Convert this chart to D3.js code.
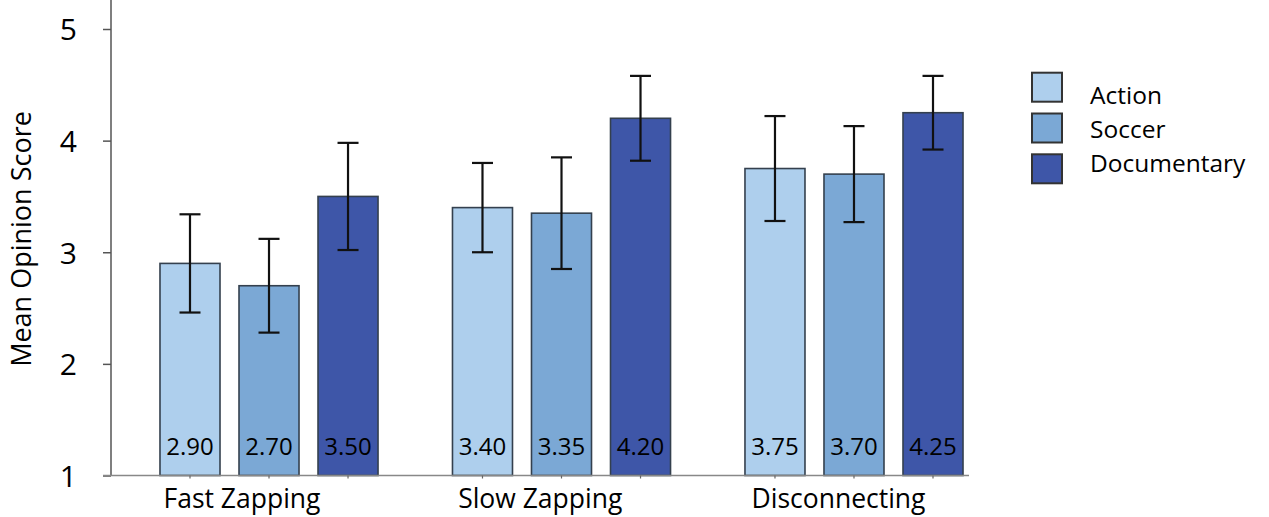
<!DOCTYPE html>
<html><head><meta charset="utf-8">
<script src="https://cdn.jsdelivr.net/npm/d3@7"></script>
<style>body{margin:0;background:#fff;} svg{display:block;} text{font-family:"Open Sans",sans-serif;fill:#000;}</style>
</head><body>
<svg id="chart" width="1269" height="517"></svg>
<script>
const categories = ["Fast Zapping", "Slow Zapping", "Disconnecting"];
const series = ["Action", "Soccer", "Documentary"];
const actionValues = [2.90, 3.40, 3.75];
const soccerValues = [2.70, 3.35, 3.70];
const documentaryValues = [3.50, 4.20, 4.25];
const actionErrors = [0.44, 0.40, 0.47];
const soccerErrors = [0.42, 0.50, 0.43];
const documentaryErrors = [0.48, 0.38, 0.33];
const yTicks = [1, 2, 3, 4, 5];
const colors = ["#aecfed", "#7ba8d5", "#3e56a8"];

const valuesBySeries = [actionValues, soccerValues, documentaryValues];
const errorsBySeries = [actionErrors, soccerErrors, documentaryErrors];
const data = [];
categories.forEach((c, i) => series.forEach((s, j) => data.push({cat: c, ser: s, v: valuesBySeries[j][i], e: errorsBySeries[j][i], j})));

const svg = d3.select("#chart");
const y = d3.scaleLinear().domain([1, 5]).range([475.5, 29]);
const x0 = d3.scaleBand().domain(categories).range([122.75, 1000.25]).paddingInner(0.1897).paddingOuter(0.0949);
const x1 = d3.scaleBand().domain(series).range([0, x0.bandwidth()]).paddingInner(0.2405).paddingOuter(0.12);
const labelX = d3.scalePoint().domain(categories).range([242, 838.5]);
const color = d3.scaleOrdinal().domain(series).range(colors);

// y axis
const yAxis = d3.axisLeft(y).tickValues(yTicks).tickSize(8).tickFormat(d3.format("d"));
const gy = svg.append("g").attr("transform", "translate(111,0)").call(yAxis);
gy.attr("font-size", null).attr("font-family", null);
gy.select(".domain").remove();
gy.selectAll(".tick line").attr("stroke", "#555").attr("stroke-width", 1.5);
gy.selectAll(".tick text").attr("x", -34).attr("dy", "0.36em").style("font-size", "30px").attr("fill", "#000");
svg.append("line").attr("x1", 111).attr("x2", 111).attr("y1", y(1)).attr("y2", y(5.26)).attr("stroke", "#555").attr("stroke-width", 1.5);

// bars
const bars = svg.append("g");
bars.selectAll("rect").data(data).join("rect")
  .attr("x", d => x0(d.cat) + x1(d.ser))
  .attr("y", d => y(d.v))
  .attr("width", x1.bandwidth())
  .attr("height", d => y(1) - y(d.v))
  .attr("fill", d => color(d.ser))
  .attr("stroke", "#34404e").attr("stroke-width", 1.6);

// x baseline and small ticks
svg.append("line").attr("x1", 103).attr("x2", 969).attr("y1", y(1)).attr("y2", y(1)).attr("stroke", "#888").attr("stroke-width", 1.5);
svg.append("g").selectAll("line").data(data).join("line")
  .attr("x1", d => x0(d.cat) + x1(d.ser) + x1.bandwidth() / 2)
  .attr("x2", d => x0(d.cat) + x1(d.ser) + x1.bandwidth() / 2)
  .attr("y1", y(1)).attr("y2", y(1) + 3).attr("stroke", "#666").attr("stroke-width", 1.2);

// error bars
const eg = svg.append("g").attr("stroke", "#111").attr("stroke-width", 2.2);
data.forEach(d => {
  const cx = x0(d.cat) + x1(d.ser) + x1.bandwidth() / 2;
  eg.append("line").attr("x1", cx).attr("x2", cx).attr("y1", y(d.v + d.e)).attr("y2", y(d.v - d.e));
  eg.append("line").attr("x1", cx - 10.5).attr("x2", cx + 10.5).attr("y1", y(d.v + d.e)).attr("y2", y(d.v + d.e));
  eg.append("line").attr("x1", cx - 10.5).attr("x2", cx + 10.5).attr("y1", y(d.v - d.e)).attr("y2", y(d.v - d.e));
});

// value labels
svg.append("g").selectAll("text").data(data).join("text")
  .attr("x", d => x0(d.cat) + x1(d.ser) + x1.bandwidth() / 2)
  .attr("y", 455)
  .attr("text-anchor", "middle").attr("font-size", 24)
  .text(d => d3.format(".2f")(d.v));

// category labels
svg.append("g").selectAll("text").data(categories).join("text")
  .attr("x", d => labelX(d)).attr("y", 508)
  .attr("text-anchor", "middle").attr("font-size", 26.5)
  .text(d => d);

// y title
svg.append("text").attr("transform", "translate(31,239) rotate(-90)")
  .attr("text-anchor", "middle").attr("font-size", 27).text("Mean Opinion Score");

// legend
const lg = svg.append("g").selectAll("g").data(series).join("g")
  .attr("transform", (d, i) => `translate(1032,${72.7 + i * 40.8})`);
lg.append("rect").attr("width", 30).attr("height", 29).attr("fill", d => color(d)).attr("stroke", "#333").attr("stroke-width", 2);
const legendTextY = [31.5, 65.5, 99.5];
lg.append("text").attr("x", 58).attr("y", (d, i) => legendTextY[i] - i * 40.8).attr("font-size", 24.5).text(d => d);
</script>
</body></html>
